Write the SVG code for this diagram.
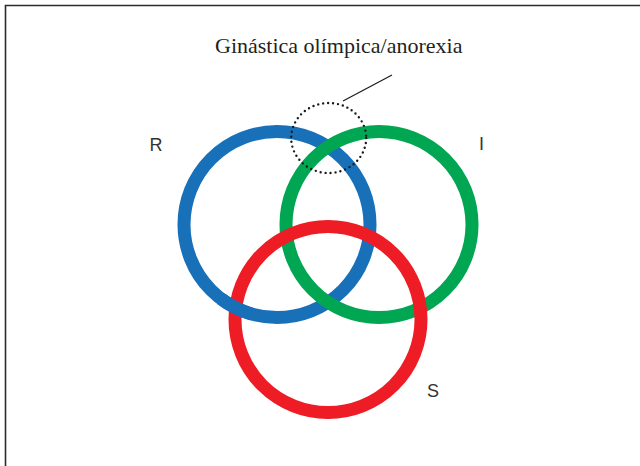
<svg xmlns="http://www.w3.org/2000/svg" width="640" height="466" viewBox="0 0 640 466">
  <style>
    .ring { fill: none; stroke-width: 13; }
    .lbl { font-family: "Liberation Sans", Arial, sans-serif; font-size: 18px; fill: #333333; }
    .title { font-family: "Liberation Serif", "Times New Roman", serif; font-size: 22px; fill: #231f20; }
  </style>
  <rect width="640" height="466" fill="#ffffff"/>
  <path d="M5.5,466 V5.5 H640" fill="none" stroke="#2b2b2b" stroke-width="1.6"/>
  <g id="ring-R">
    <circle class="ring" cx="277" cy="224.5" r="93" stroke="#1870b9"/>
  </g>
  <g id="ring-I">
    <circle class="ring" cx="379" cy="224.5" r="93" stroke="#00a651"/>
  </g>
  <g id="ring-S">
    <circle class="ring" cx="328" cy="319.5" r="93" stroke="#ee1c25"/>
  </g>
  <g id="ring-R-over">
    <path class="ring" d="M251.4,313.9 A93,93 0 0 1 221.0,298.8" stroke="#1870b9"/>
  </g>
  <g id="highlight">
    <ellipse cx="328.7" cy="138" rx="37.5" ry="35" fill="none" stroke="#1a1a1a" stroke-width="2.4" stroke-linecap="round" stroke-dasharray="0 5"/>
  </g>
  <g id="connectors">
    <line x1="343" y1="101" x2="392" y2="75" stroke="#1a1a1a" stroke-width="1.2"/>
  </g>
  <g id="labels">
    <text class="title" x="215" y="53">Ginástica olímpica/anorexia</text>
    <text class="lbl" x="149.5" y="151">R</text>
    <text class="lbl" x="479" y="150">I</text>
    <text class="lbl" x="427" y="397">S</text>
  </g>
</svg>
